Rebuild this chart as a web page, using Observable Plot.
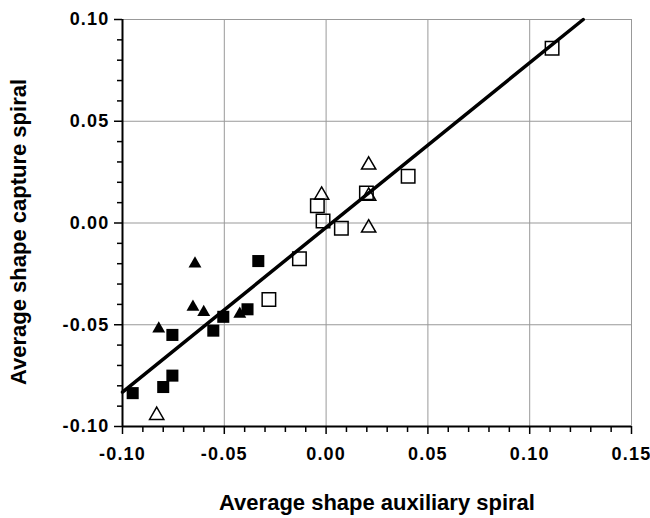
<!DOCTYPE html>
<html><head><meta charset="utf-8">
<script src="https://cdn.jsdelivr.net/npm/d3@7"></script>
<script src="https://cdn.jsdelivr.net/npm/@observablehq/plot@0.6"></script>
<style>
body{margin:0;background:#fff}
g[aria-label="x-axis tick label"] text, g[aria-label="y-axis tick label"] text { font-size: 18px !important; font-weight: bold !important; letter-spacing: 1.2px; }
</style>
</head><body><div id="chart"></div>
<script>
// Filled squares
const filledSquaresX = [-0.095, -0.080, -0.0755, -0.0755, -0.0554, -0.0505, -0.0386, -0.0333];
const filledSquaresY = [-0.0836, -0.0806, -0.0750, -0.0550, -0.0529, -0.0461, -0.0424, -0.0187];
// Filled triangles
const filledTrianglesX = [-0.0644, -0.0822, -0.0654, -0.0601, -0.0424];
const filledTrianglesY = [-0.0200, -0.0520, -0.0413, -0.0439, -0.0447];
// Open triangles
const openTrianglesX = [-0.0832, -0.0022, 0.0209, 0.0209, 0.0209];
const openTrianglesY = [-0.0945, 0.0137, 0.0285, 0.0132, -0.0024];
// Open squares
const openSquaresX = [-0.0281, -0.0131, -0.0015, -0.0043, 0.0075, 0.0198, 0.0403, 0.1110];
const openSquaresY = [-0.0376, -0.0176, 0.0010, 0.0085, -0.0026, 0.0148, 0.0230, 0.0859];
// Fitted line endpoints
const fitX = [-0.100, 0.1263];
const fitY = [-0.0831, 0.100];

const xMajorTicks = [-0.10, -0.05, 0.00, 0.05, 0.10, 0.15];
const xTickLabels = ["-0.10", "-0.05", "0.00", "0.05", "0.10", "0.15"];
const yMajorTicks = [-0.10, -0.05, 0.00, 0.05, 0.10];
const yTickLabels = ["-0.10", "-0.05", "0.00", "0.05", "0.10"];
const xMinorTicks = [-0.09,-0.08,-0.07,-0.06,-0.04,-0.03,-0.02,-0.01,0.01,0.02,0.03,0.04,0.06,0.07,0.08,0.09,0.11,0.12,0.13,0.14];
const yMinorTicks = [-0.09,-0.08,-0.07,-0.06,-0.04,-0.03,-0.02,-0.01,0.01,0.02,0.03,0.04,0.06,0.07,0.08,0.09];

const xTitle = "Average shape auxiliary spiral";
const yTitle = "Average shape capture spiral";

const pts = (xs, ys) => xs.map((x, i) => ({x, y: ys[i]}));
const fit = pts(fitX, fitY);

const chart = Plot.plot({
  width: 650, height: 518,
  marginLeft: 122, marginRight: 19, marginTop: 19, marginBottom: 92,
  x: {domain: [-0.10, 0.15], label: null},
  y: {domain: [-0.10, 0.10], label: null},
  style: {fontFamily: "'Liberation Sans', Arial, sans-serif", fontSize: "18px", fontWeight: "bold", background: "#fff", color: "#000"},
  marks: [
    Plot.gridX(xMajorTicks.slice(1), {stroke: "#999", strokeOpacity: 1, strokeWidth: 1}),
    Plot.gridY(yMajorTicks.slice(1), {stroke: "#999", strokeOpacity: 1, strokeWidth: 1}),
    Plot.axisX(xMinorTicks, {tickSize: 6, tickFormat: () => "", strokeWidth: 1.5, label: null}),
    Plot.axisY(yMinorTicks, {tickSize: 5, tickFormat: () => "", strokeWidth: 1.5, label: null}),
    Plot.axisX(xMajorTicks, {tickSize: 8, tickPadding: 13, strokeWidth: 1.5, label: null,
      tickFormat: d => xTickLabels[xMajorTicks.indexOf(d)], fontSize: 18, fontWeight: "bold"}),
    Plot.axisY(yMajorTicks, {tickSize: 8, tickPadding: 5, strokeWidth: 1.5, label: null,
      tickFormat: d => yTickLabels[yMajorTicks.indexOf(d)], fontSize: 18, fontWeight: "bold"}),
    Plot.ruleY([-0.10], {stroke: "#000", strokeWidth: 2}),
    Plot.ruleX([-0.10], {stroke: "#000", strokeWidth: 2}),
    Plot.line(fit, {x: "x", y: "y", stroke: "#000", strokeWidth: 3.5}),
    Plot.dot(pts(filledSquaresX, filledSquaresY), {x: "x", y: "y", symbol: "square", r: 6.8, fill: "#000", stroke: "none"}),
    Plot.dot(pts(filledTrianglesX, filledTrianglesY), {x: "x", y: "y", symbol: "triangle", r: 4.8, fill: "#000", stroke: "none"}),
    Plot.dot(pts(openTrianglesX, openTrianglesY), {x: "x", y: "y", symbol: "triangle", r: 5.3, fill: "none", stroke: "#000", strokeWidth: 1.5}),
    Plot.dot(pts(openSquaresX, openSquaresY), {x: "x", y: "y", symbol: "square", r: 7.6, fill: "none", stroke: "#000", strokeWidth: 1.5}),
    Plot.text([xTitle], {frameAnchor: "bottom", dy: 83, text: d => d, fontSize: 22, fontWeight: "bold"}),
    Plot.text([yTitle], {frameAnchor: "left", textAnchor: "middle", dx: -104, dy: 9, rotate: -90, text: d => d, fontSize: 22, fontWeight: "bold"})
  ]
});
document.getElementById("chart").appendChild(chart);
</script>
</body></html>
